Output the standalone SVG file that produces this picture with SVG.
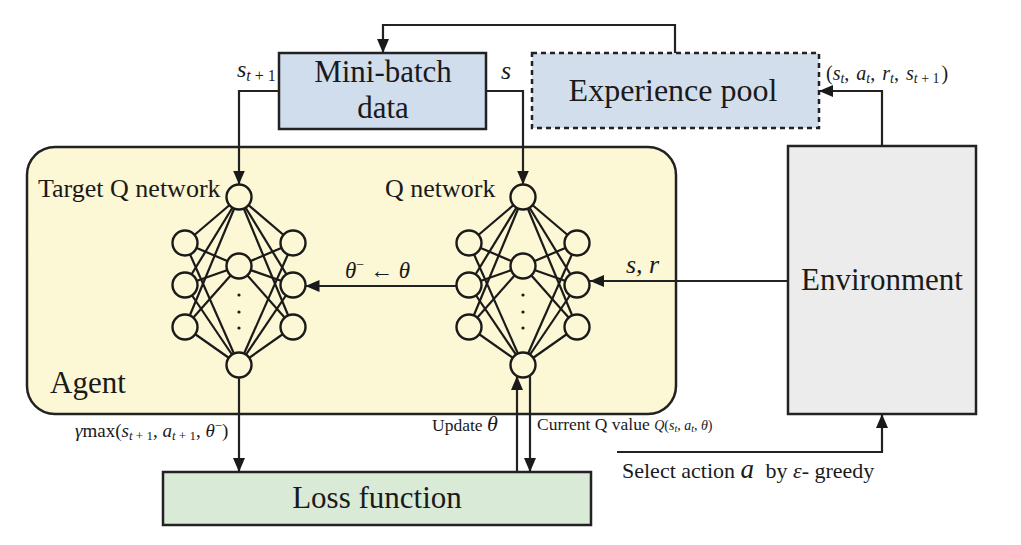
<svg xmlns="http://www.w3.org/2000/svg" width="1021" height="545" viewBox="0 0 1021 545">
<defs>
<marker id="ah" viewBox="0 0 14 12" refX="14" refY="6" markerWidth="14" markerHeight="12" markerUnits="userSpaceOnUse" orient="auto">
<path d="M0,0 L14,6 L0,12 Z" fill="#1a1a1a"/>
</marker>
<style>
.box{stroke:#222;stroke-width:2.5}
.conn{fill:none;stroke:#222;stroke-width:2.2}
.edge{stroke:#1a1a1a;stroke-width:2.2}
.node{fill:#fcf7d4;stroke:#1a1a1a;stroke-width:2.4}
.dot{fill:#1a1a1a}
text{font-family:"Liberation Serif","Times New Roman",serif;fill:#1a1a1a}
.lbl{font-size:26px}
.it{font-style:italic}
</style>
</defs>
<rect width="1021" height="545" fill="#ffffff"/>

<g id="agent">
<rect x="27" y="147" width="649" height="267" rx="28" ry="28" fill="#fcf7d4" class="box"/>
<text x="50" y="393" font-size="31">Agent</text>
</g>

<g id="mini-batch">
<rect x="279" y="53" width="207" height="76" fill="#d0dded" class="box"/>
<text x="383" y="82" text-anchor="middle" font-size="31">Mini-batch</text>
<text x="383" y="118" text-anchor="middle" font-size="31">data</text>
</g>

<g id="experience-pool">
<rect x="532" y="53" width="287" height="75" fill="#d3deed" stroke="#222" stroke-width="2.5" stroke-dasharray="5,4"/>
<text x="673" y="101" text-anchor="middle" font-size="32">Experience pool</text>
</g>

<g id="environment">
<rect x="788" y="146" width="188" height="268" fill="#ececec" class="box"/>
<text x="882" y="290" text-anchor="middle" font-size="31">Environment</text>
</g>

<g id="loss-function">
<rect x="163" y="472" width="428" height="53" fill="#d9ead6" class="box"/>
<text x="377" y="508" text-anchor="middle" font-size="31">Loss function</text>
</g>

<g id="target-q-network">
<g class="edge">
<line x1="239" y1="197" x2="185" y2="243"/><line x1="239" y1="197" x2="185" y2="285"/><line x1="239" y1="197" x2="185" y2="327"/>
<line x1="239" y1="197" x2="293" y2="243"/><line x1="239" y1="197" x2="293" y2="285"/><line x1="239" y1="197" x2="293" y2="327"/>
<line x1="239" y1="365" x2="185" y2="243"/><line x1="239" y1="365" x2="185" y2="285"/><line x1="239" y1="365" x2="185" y2="327"/>
<line x1="239" y1="365" x2="293" y2="243"/><line x1="239" y1="365" x2="293" y2="285"/><line x1="239" y1="365" x2="293" y2="327"/>
<line x1="239" y1="266" x2="185" y2="243"/><line x1="239" y1="266" x2="185" y2="285"/><line x1="239" y1="266" x2="185" y2="327"/>
<line x1="239" y1="266" x2="293" y2="243"/><line x1="239" y1="266" x2="293" y2="285"/><line x1="239" y1="266" x2="293" y2="327"/>
</g>
<circle cx="239" cy="197" r="12.5" class="node"/>
<circle cx="185" cy="243" r="12.5" class="node"/>
<circle cx="185" cy="285" r="12.5" class="node"/>
<circle cx="185" cy="327" r="12.5" class="node"/>
<circle cx="293" cy="243" r="12.5" class="node"/>
<circle cx="293" cy="285" r="12.5" class="node"/>
<circle cx="293" cy="327" r="12.5" class="node"/>
<circle cx="239" cy="266" r="12.5" class="node"/>
<circle cx="239" cy="365" r="12.5" class="node"/>
<circle cx="239" cy="295" r="1.6" class="dot"/>
<circle cx="239" cy="312" r="1.6" class="dot"/>
<circle cx="239" cy="328" r="1.6" class="dot"/>
<text x="38" y="197" class="lbl">Target Q network</text>
</g>

<g id="q-network">
<g class="edge">
<line x1="523" y1="197" x2="469" y2="243"/><line x1="523" y1="197" x2="469" y2="285"/><line x1="523" y1="197" x2="469" y2="327"/>
<line x1="523" y1="197" x2="577" y2="243"/><line x1="523" y1="197" x2="577" y2="285"/><line x1="523" y1="197" x2="577" y2="327"/>
<line x1="523" y1="365" x2="469" y2="243"/><line x1="523" y1="365" x2="469" y2="285"/><line x1="523" y1="365" x2="469" y2="327"/>
<line x1="523" y1="365" x2="577" y2="243"/><line x1="523" y1="365" x2="577" y2="285"/><line x1="523" y1="365" x2="577" y2="327"/>
<line x1="523" y1="266" x2="469" y2="243"/><line x1="523" y1="266" x2="469" y2="285"/><line x1="523" y1="266" x2="469" y2="327"/>
<line x1="523" y1="266" x2="577" y2="243"/><line x1="523" y1="266" x2="577" y2="285"/><line x1="523" y1="266" x2="577" y2="327"/>
</g>
<circle cx="523" cy="197" r="12.5" class="node"/>
<circle cx="469" cy="243" r="12.5" class="node"/>
<circle cx="469" cy="285" r="12.5" class="node"/>
<circle cx="469" cy="327" r="12.5" class="node"/>
<circle cx="577" cy="243" r="12.5" class="node"/>
<circle cx="577" cy="285" r="12.5" class="node"/>
<circle cx="577" cy="327" r="12.5" class="node"/>
<circle cx="523" cy="266" r="12.5" class="node"/>
<circle cx="523" cy="365" r="12.5" class="node"/>
<circle cx="523" cy="295" r="1.6" class="dot"/>
<circle cx="523" cy="312" r="1.6" class="dot"/>
<circle cx="523" cy="328" r="1.6" class="dot"/>
<text x="385" y="197" class="lbl">Q network</text>
</g>

<g id="connectors">
<path class="conn" d="M675,53 V25 H383 V53" marker-end="url(#ah)"/>
<path class="conn" d="M279,91 H239 V184.5" marker-end="url(#ah)"/>
<path class="conn" d="M486,91 H523 V184.5" marker-end="url(#ah)"/>
<path class="conn" d="M882,146 V91 H819" marker-end="url(#ah)"/>
<path class="conn" d="M788,281 H590" marker-end="url(#ah)"/>
<path class="conn" d="M456.5,286 H305.5" marker-end="url(#ah)"/>
<path class="conn" d="M239,377.5 V472" marker-end="url(#ah)"/>
<path class="conn" d="M517,472 V376" marker-end="url(#ah)"/>
<path class="conn" d="M530,375 V472" marker-end="url(#ah)"/>
<path class="conn" d="M617,452 H882 V414" marker-end="url(#ah)"/>
</g>

<g id="labels">
<text x="237" y="77" font-size="24"><tspan class="it">s</tspan><tspan font-size="16" dy="4" class="it">t</tspan><tspan font-size="16"> + 1</tspan></text>
<text x="501" y="79" font-size="26" class="it">s</text>
<text x="826" y="80" font-size="20">(<tspan class="it">s</tspan><tspan font-size="14" dy="3" class="it">t</tspan><tspan dy="-3">, </tspan><tspan class="it" dx="2">a</tspan><tspan font-size="14" dy="3" class="it">t</tspan><tspan dy="-3">, </tspan><tspan class="it" dx="2">r</tspan><tspan font-size="14" dy="3" class="it">t</tspan><tspan dy="-3">, </tspan><tspan class="it" dx="2">s</tspan><tspan font-size="14" dy="3"><tspan class="it">t</tspan> + 1</tspan><tspan dy="-3" dx="2">)</tspan></text>
<text x="345" y="278" font-size="23"><tspan class="it">θ</tspan><tspan font-size="14" dy="-9">−</tspan><tspan dy="9"> ← </tspan><tspan class="it">θ</tspan></text>
<text x="626" y="273" font-size="26" class="it">s, r</text>
<text x="75" y="437" font-size="19"><tspan class="it">γ</tspan>max(<tspan class="it">s</tspan><tspan font-size="13" dy="3"><tspan class="it">t</tspan> + 1</tspan><tspan dy="-3">, </tspan><tspan class="it">a</tspan><tspan font-size="13" dy="3"><tspan class="it">t</tspan> + 1</tspan><tspan dy="-3">, </tspan><tspan class="it">θ</tspan><tspan font-size="13" dy="-7">−</tspan><tspan dy="7">)</tspan></text>
<text x="432" y="431" font-size="17.5">Update <tspan class="it" font-size="22">θ</tspan></text>
<text x="537" y="430" font-size="17.5">Current Q value <tspan font-size="14"><tspan class="it">Q</tspan>(<tspan class="it">s</tspan><tspan font-size="10" dy="2" class="it">t</tspan><tspan dy="-2">, </tspan><tspan class="it">a</tspan><tspan font-size="10" dy="2" class="it">t</tspan><tspan dy="-2">, </tspan><tspan class="it">θ</tspan>)</tspan></text>
<text x="622" y="478" font-size="22">Select action <tspan class="it" font-size="27">a</tspan><tspan dx="6"> by </tspan><tspan class="it">ε</tspan>- greedy</text>
</g>
</svg>
